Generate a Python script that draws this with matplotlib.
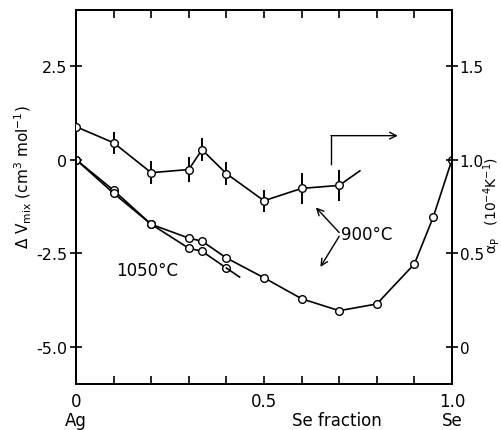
import numpy as np
import matplotlib
matplotlib.use("Agg")
import matplotlib.pyplot as plt

# Se fraction vs. excess volume (left axis) and thermal expansion (right axis)
x_900 = [0.0, 0.1, 0.2, 0.3, 0.335, 0.4, 0.5, 0.6, 0.7, 0.8, 0.9, 0.95, 1.0]
dv_900 = [0.0, -0.82, -1.73, -2.10, -2.18, -2.63, -3.16, -3.72, -4.04, -3.86, -2.79, -1.54, 0.0]

x_1050 = [0.0, 0.1, 0.2, 0.3, 0.335, 0.4]
dv_1050 = [0.0, -0.90, -1.73, -2.37, -2.45, -2.90]
x_1050_end = 0.435
dv_1050_end = -3.14

x_alpha = [0.0, 0.1, 0.2, 0.3, 0.335, 0.4, 0.5, 0.6, 0.7]
alpha = [1.176, 1.09, 0.93, 0.947, 1.053, 0.925, 0.78, 0.846, 0.862]
alpha_err = [0.065, 0.06, 0.06, 0.065, 0.06, 0.06, 0.06, 0.085, 0.085]
x_alpha_end = 0.755
alpha_end = 0.94

xticks = [0.0, 0.1, 0.2, 0.3, 0.4, 0.5, 0.6, 0.7, 0.8, 0.9, 1.0]
xtick_labels = ["0", "", "", "", "", "0.5", "", "", "", "", "1.0"]
yticks_left = [2.5, 0.0, -2.5, -5.0]
ylabels_left = ["2.5", "0", "-2.5", "-5.0"]
yticks_right = [1.5, 1.0, 0.5, 0.0]
ylabels_right = ["1.5", "1.0", "0.5", "0"]

plt.rcParams["font.family"] = "DejaVu Sans"
plt.rcParams["font.size"] = 12

fig = plt.figure(figsize=(5.01, 4.31), dpi=100)
ax = fig.add_axes([76 / 501, 46 / 431, 376 / 501, 374 / 431])
ax2 = ax.twinx()

lw = 1.2
mk = dict(marker="o", ms=5.5, mfc="white", mec="black", mew=1.0)

ax.plot(x_900, dv_900, color="black", lw=lw, **mk)
ax.plot(x_1050, dv_1050, color="black", lw=lw, **mk)
ax.plot([x_1050[-1], x_1050_end], [dv_1050[-1], dv_1050_end], color="black", lw=lw)

ax2.plot(x_alpha, alpha, color="black", lw=lw, zorder=3, **mk)
ax2.plot([x_alpha[-1], x_alpha_end], [alpha[-1], alpha_end], color="black", lw=lw)
ax2.errorbar(x_alpha, alpha, yerr=alpha_err, fmt="none", ecolor="black", elinewidth=1.4, capsize=0, zorder=2)

ax.set_xlim(0, 1.0)
ax.set_ylim(-6, 4)
ax2.set_ylim(-0.2, 1.8)

ax.set_xticks(xticks)
ax.set_xticklabels(xtick_labels)
ax.set_yticks(yticks_left)
ax.set_yticklabels(ylabels_left)
ax2.set_yticks(yticks_right)
ax2.set_yticklabels(ylabels_right)

ax.tick_params(axis="x", direction="in", length=6, width=1.2, top=True, pad=6)
ax.tick_params(axis="y", direction="inout", length=9, width=1.2, pad=2, labelsize=11.5)
ax2.tick_params(axis="y", direction="inout", length=9, width=1.2, pad=1, labelsize=11)
for a in (ax, ax2):
    for s in a.spines.values():
        s.set_linewidth(1.3)

ax.set_ylabel("Δ V$_{\\mathrm{mix}}$ (cm$^3$ mol$^{-1}$)", fontsize=11)
ax.yaxis.set_label_coords(-0.112, 0.555)
ax2.set_ylabel("α$_\\mathrm{P}$   (10$^{-4}$K$^{-1}$)", rotation=90, fontsize=10)
ax2.yaxis.set_label_coords(1.078, 0.48)

ax.text(0.0, -0.095, "Ag", transform=ax.transAxes, ha="center", va="center")
ax.text(0.695, -0.095, "Se fraction", transform=ax.transAxes, ha="center", va="center")
ax.text(1.0, -0.095, "Se", transform=ax.transAxes, ha="center", va="center")

ax.text(0.108, -2.95, "1050°C", ha="left", va="center")
ax.text(0.705, -2.0, "900°C", ha="left", va="center")
arrow = dict(arrowstyle="->", color="black", lw=1.0, shrinkA=0, shrinkB=0)
ax.annotate("", xy=(0.638, -1.28), xytext=(0.700, -1.95), arrowprops=arrow)
ax.annotate("", xy=(0.65, -2.87), xytext=(0.700, -2.05), arrowprops=arrow)

ax.plot([0.678, 0.678], [-0.13, 0.64], color="black", lw=1.0)
ax.annotate("", xy=(0.856, 0.64), xytext=(0.678, 0.64), arrowprops=arrow)

fig.savefig("out.png", dpi=100)
